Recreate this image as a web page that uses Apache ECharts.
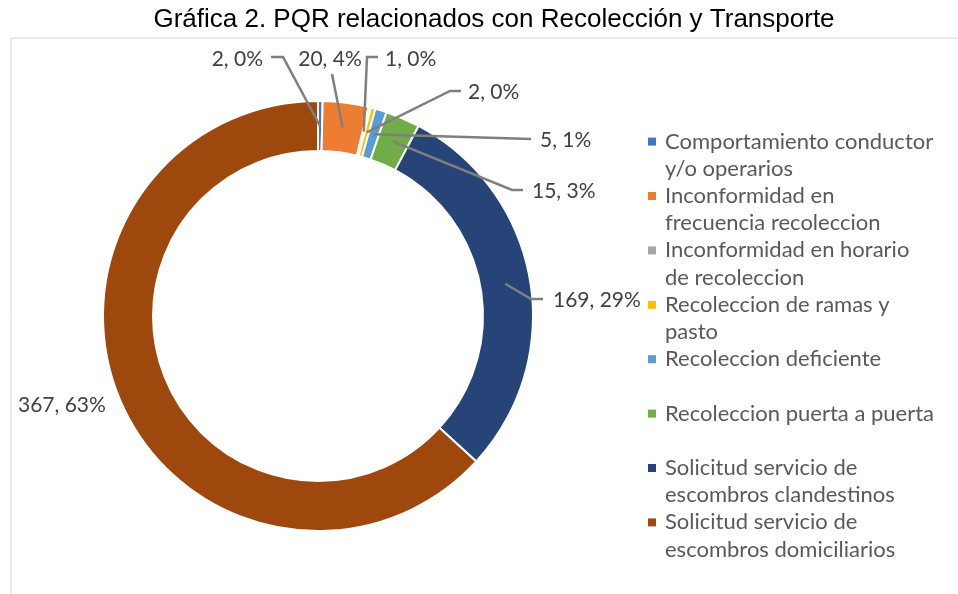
<!DOCTYPE html>
<html>
<head>
<meta charset="utf-8">
<script src="https://cdn.jsdelivr.net/npm/echarts@6/dist/echarts.min.js"></script>
<style>
  html, body { margin: 0; padding: 0; background: #fff; }
  #chart { width: 958px; height: 594px; }
</style>
</head>
<body>
<div id="chart"></div>
<script>
const categories = [
  'Comportamiento conductor y/o operarios',
  'Inconformidad en frecuencia recoleccion',
  'Inconformidad en horario de recoleccion',
  'Recoleccion de ramas y pasto',
  'Recoleccion deficiente',
  'Recoleccion puerta a puerta',
  'Solicitud servicio de escombros clandestinos',
  'Solicitud servicio de escombros domiciliarios'
];
const values = [2, 20, 1, 2, 5, 15, 169, 367];
// legend text split in two lines like the original
const legendLines = [
  ['Comportamiento conductor', 'y/o operarios'],
  ['Inconformidad en', 'frecuencia recoleccion'],
  ['Inconformidad en horario', 'de recoleccion'],
  ['Recoleccion de ramas y', 'pasto'],
  ['Recoleccion deficiente', ' '],
  ['Recoleccion puerta a puerta', ' '],
  ['Solicitud servicio de', 'escombros clandestinos'],
  ['Solicitud servicio de', 'escombros domiciliarios']
];
const colors = ['#4472C4', '#ED7D31', '#A5A5A5', '#FFC000', '#5B9BD5', '#70AD47', '#264478', '#9E480E'];

const chart = echarts.init(document.getElementById('chart'));

const cx = 318, cy = 316, rIn = 165, rOut = 215;
const total = values.reduce((a, b) => a + b, 0);
// mid angle of each slice (radians, clockwise from 12 o'clock)
const midAngles = [];
let acc = 0;
values.forEach(v => {
  midAngles.push((acc + v / 2) / total * Math.PI * 2);
  acc += v;
});

// where each label sits and how its leader bends (Excel-like placement)
const labelSpots = [
  { x: 263, y: 59, align: 'right', elbow: [283, 57], end: [271, 57] },
  { x: 330, y: 59, align: 'center', elbow: null, end: [332, 74] },
  { x: 385, y: 59, align: 'left', elbow: [367, 57], end: [378, 57] },
  { x: 468, y: 92, align: 'left', elbow: [450, 91], end: [461, 91] },
  { x: 540, y: 140, align: 'left', elbow: null, end: [531, 139] },
  { x: 532, y: 191, align: 'left', elbow: [512, 190], end: [523, 190] },
  { x: 553, y: 300, align: 'left', elbow: [531, 299], end: [543, 299] },
  { x: 18, y: 405, align: 'left', elbow: null, end: null }
];

const rich = {
  t: { fontSize: 22, lineHeight: 27.2, color: '#595959', fontFamily: 'Lato' },
  s: { width: 17 },
  g: { width: 9 }
};
colors.forEach((c, i) => {
  rich['m' + i] = { width: 8, height: 8, backgroundColor: c };
});

const pieData = categories.map((c, i) => ({ name: c, value: values[i] }));

const option = {
  color: colors,
  animation: false,
  title: {
    text: 'Gráfica 2. PQR relacionados con Recolección y Transporte',
    left: 489,
    textAlign: 'center',
    top: 2,
    textStyle: { fontFamily: 'Liberation Sans', fontWeight: 'normal', fontSize: 26, color: '#000' }
  },
  graphic: [{
    type: 'rect',
    shape: { x: 11, y: 38, width: 1000, height: 700 },
    style: { fill: 'none', stroke: '#d9d9d9', lineWidth: 1 },
    silent: true
  }],
  legend: {
    orient: 'vertical',
    left: 637,
    top: 123,
    itemGap: 0,
    itemWidth: 0,
    itemHeight: 8,
    itemStyle: { opacity: 0 },
    selectedMode: false,
    data: categories,
    formatter: name => {
      const i = categories.indexOf(name);
      const ln = legendLines[i];
      return '{m' + i + '|}{g|}{t|' + ln[0] + '}\n{s|}{t|' + ln[1] + '}';
    },
    textStyle: { rich: rich, color: '#595959', fontSize: 22, lineHeight: 27.2 }
  },
  series: [
    {
      // the ring itself
      type: 'pie',
      z: 2,
      center: [cx, cy],
      radius: [rIn, rOut],
      startAngle: 90,
      clockwise: true,
      itemStyle: { borderColor: '#fff', borderWidth: 2 },
      label: { show: false },
      labelLine: { show: false },
      data: pieData
    },
    {
      // transparent copy on top, carrying labels and leader lines
      type: 'pie',
      z: 5,
      silent: true,
      center: [cx, cy],
      radius: [rIn, rOut],
      startAngle: 90,
      clockwise: true,
      percentPrecision: 0,
      avoidLabelOverlap: false,
      itemStyle: { color: 'rgba(0,0,0,0)', borderWidth: 0 },
      label: {
        show: true,
        formatter: p => p.value + ', ' + p.percent + '%',
        fontFamily: 'Lato',
        fontSize: 21,
        color: '#404040'
      },
      labelLine: {
        show: true,
        showAbove: true,
        lineStyle: { color: '#7f7f7f', width: 2.5 }
      },
      labelLayout: params => {
        const i = params.dataIndex;
        const spot = labelSpots[i];
        const a = midAngles[i];
        const r = (rIn + rOut) / 2;
        const start = [cx + r * Math.sin(a), cy - r * Math.cos(a)];
        let pts;
        if (!spot.end) {
          pts = [[spot.x, spot.y], [spot.x, spot.y], [spot.x, spot.y]];
        } else if (spot.elbow) {
          pts = [start, spot.elbow, spot.end];
        } else {
          pts = [start, spot.end, spot.end];
        }
        return {
          x: spot.x,
          y: spot.y,
          align: spot.align,
          verticalAlign: 'middle',
          labelLinePoints: pts
        };
      },
      data: pieData.map((d, i) => i === 7 ? Object.assign({}, d, { labelLine: { show: false } }) : d)
    }
  ]
};

chart.setOption(option);
</script>
</body>
</html>
